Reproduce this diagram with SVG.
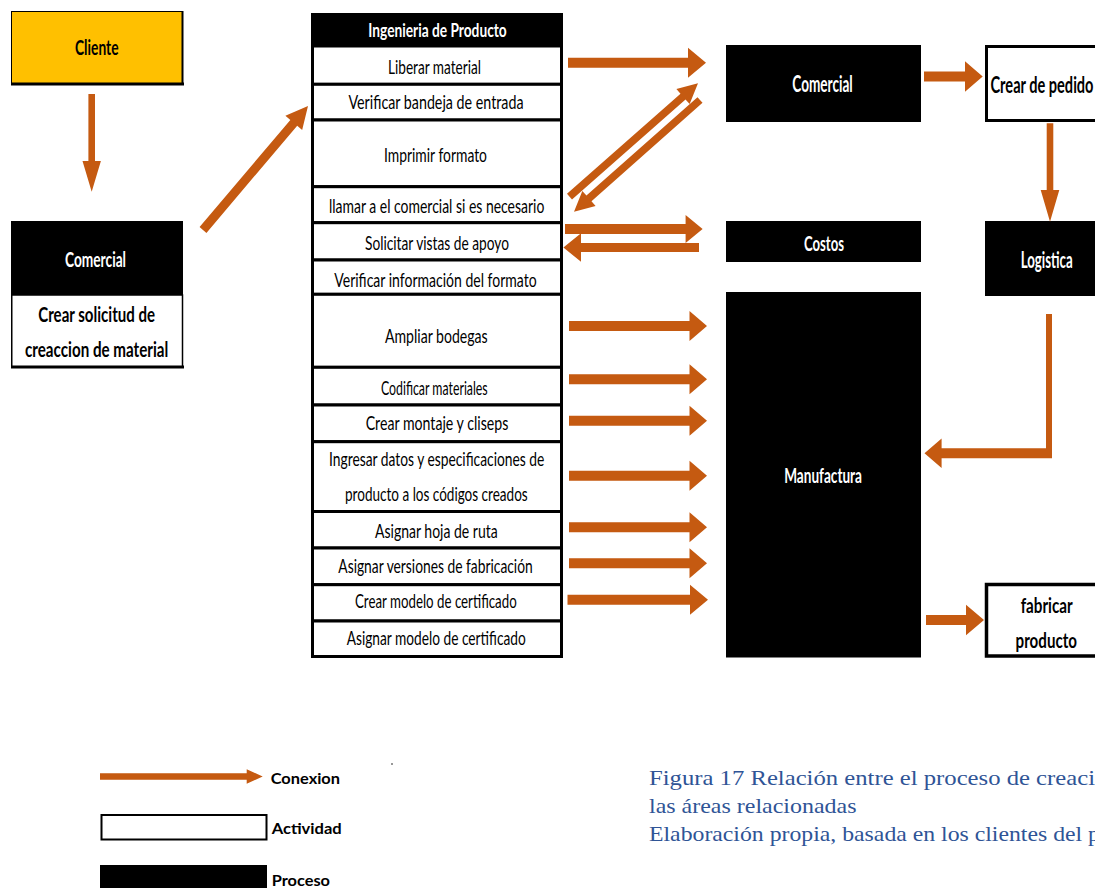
<svg xmlns="http://www.w3.org/2000/svg" width="1095" height="888" viewBox="0 0 1095 888">
  <style>
    .proc { fill: #000; }
    .act { fill: #fff; stroke: #000; stroke-width: 3; }
    .arr { fill: #C55A11; }
    .t { font-family: Lato, 'Liberation Sans', sans-serif; font-size: 19px; fill: #000; }
    .b { font-weight: 700; font-size: 21px; }
    .w { fill: #fff; }
    .lg { font-family: Lato, 'Liberation Sans', sans-serif; font-weight: 700; font-size: 16px; fill: #000; }
    .cap { font-family: 'Liberation Serif', 'Times New Roman', serif; font-size: 21px; fill: #2F5496; }
  </style>

  <rect width="1095" height="888" fill="#fff"/>

  <!-- Left column -->
  <g id="cliente">
    <rect x="11.5" y="11.5" width="171" height="72" fill="#FFC000" stroke="#000" stroke-width="1"/>
    <line x1="11" y1="84" x2="184" y2="84" stroke="#000" stroke-width="3"/>
    <line x1="182.5" y1="11" x2="182.5" y2="85" stroke="#000" stroke-width="2"/>
    <text class="t b" x="75" y="55" textLength="43.5" lengthAdjust="spacingAndGlyphs">Cliente</text>
  </g>

  <g id="comercial-solicitud">
    <rect class="proc" x="11" y="221" width="172" height="74"/>
    <text class="t b w" x="65" y="266.5" textLength="61" lengthAdjust="spacingAndGlyphs">Comercial</text>
    <rect x="11.75" y="295" width="170.75" height="72" fill="#fff" stroke="#000" stroke-width="1.5"/>
    <line x1="11" y1="367" x2="184" y2="367" stroke="#000" stroke-width="3"/>
    <text class="t b" x="38.3" y="321.5" textLength="116.7" lengthAdjust="spacingAndGlyphs">Crear solicitud de</text>
    <text class="t b" x="25" y="356.5" textLength="143.3" lengthAdjust="spacingAndGlyphs">creaccion de material</text>
  </g>

  <!-- Ingenieria de Producto column -->
  <g id="ingenieria">
    <rect class="proc" x="311" y="13" width="252" height="33"/>
    <text class="t b w" style="font-size:18px" x="368.3" y="37.3" textLength="138.4" lengthAdjust="spacingAndGlyphs">Ingenieria de Producto</text>
  </g>
  <g id="act-liberar">
    <rect class="act" x="312.5" y="46" width="249" height="38.3"/>
    <text class="t" x="388" y="74" textLength="93" lengthAdjust="spacingAndGlyphs">Liberar material</text>
  </g>
  <g id="act-bandeja">
    <rect class="act" x="312.5" y="84.3" width="249" height="35.7"/>
    <text class="t" x="348.5" y="108.5" textLength="175" lengthAdjust="spacingAndGlyphs">Verificar bandeja de entrada</text>
  </g>
  <g id="act-imprimir">
    <rect class="act" x="312.5" y="120" width="249" height="66.7"/>
    <text class="t" x="384" y="161.7" textLength="103" lengthAdjust="spacingAndGlyphs">Imprimir formato</text>
  </g>
  <g id="act-llamar">
    <rect class="act" x="312.5" y="186.7" width="249" height="36"/>
    <text class="t" x="329" y="213.3" textLength="215.3" lengthAdjust="spacingAndGlyphs">llamar a el comercial si es necesario</text>
  </g>
  <g id="act-vistas">
    <rect class="act" x="312.5" y="222.7" width="249" height="37.3"/>
    <text class="t" x="365" y="250" textLength="144" lengthAdjust="spacingAndGlyphs">Solicitar vistas de apoyo</text>
  </g>
  <g id="act-verificar-info">
    <rect class="act" x="312.5" y="260" width="249" height="34.3"/>
    <text class="t" x="334.3" y="286.7" textLength="202.4" lengthAdjust="spacingAndGlyphs">Verificar información del formato</text>
  </g>
  <g id="act-bodegas">
    <rect class="act" x="312.5" y="294.3" width="249" height="73"/>
    <text class="t" x="385" y="343.3" textLength="102.7" lengthAdjust="spacingAndGlyphs">Ampliar bodegas</text>
  </g>
  <g id="act-codificar">
    <rect class="act" x="312.5" y="367.3" width="249" height="37.7"/>
    <text class="t" x="381" y="395" textLength="106.7" lengthAdjust="spacingAndGlyphs">Codificar materiales</text>
  </g>
  <g id="act-montaje">
    <rect class="act" x="312.5" y="405" width="249" height="36.7"/>
    <text class="t" x="365.7" y="430" textLength="142.6" lengthAdjust="spacingAndGlyphs">Crear montaje y cliseps</text>
  </g>
  <g id="act-datos">
    <rect class="act" x="312.5" y="441.7" width="249" height="69.8"/>
    <text class="t" x="329" y="465.7" textLength="215.3" lengthAdjust="spacingAndGlyphs">Ingresar datos y especificaciones de</text>
    <text class="t" x="345" y="500.5" textLength="182.7" lengthAdjust="spacingAndGlyphs">producto a los códigos creados</text>
  </g>
  <g id="act-ruta">
    <rect class="act" x="312.5" y="511.5" width="249" height="36.5"/>
    <text class="t" x="375" y="538.3" textLength="122.7" lengthAdjust="spacingAndGlyphs">Asignar hoja de ruta</text>
  </g>
  <g id="act-versiones">
    <rect class="act" x="312.5" y="548" width="249" height="36.7"/>
    <text class="t" x="338.3" y="573.3" textLength="194.4" lengthAdjust="spacingAndGlyphs">Asignar versiones de fabricación</text>
  </g>
  <g id="act-crear-certificado">
    <rect class="act" x="312.5" y="584.7" width="249" height="36.3"/>
    <text class="t" x="355" y="608.3" textLength="161.7" lengthAdjust="spacingAndGlyphs">Crear modelo de certificado</text>
  </g>
  <g id="act-asignar-certificado">
    <rect class="act" x="312.5" y="621" width="249" height="35.5"/>
    <text class="t" x="346.7" y="645" textLength="179" lengthAdjust="spacingAndGlyphs">Asignar modelo de certificado</text>
  </g>

  <!-- Process areas -->
  <g id="comercial">
    <rect class="proc" x="726" y="45" width="195" height="77"/>
    <text class="t b w" style="font-size:22px" x="792.3" y="91.7" textLength="60.4" lengthAdjust="spacingAndGlyphs">Comercial</text>
  </g>
  <g id="costos">
    <rect class="proc" x="726" y="221" width="195" height="41"/>
    <text class="t b w" x="804" y="250.7" textLength="40" lengthAdjust="spacingAndGlyphs">Costos</text>
  </g>
  <g id="manufactura">
    <rect class="proc" x="726" y="292" width="195" height="365.5"/>
    <text class="t b w" style="font-size:20px" x="784.2" y="483.3" textLength="77.8" lengthAdjust="spacingAndGlyphs">Manufactura</text>
  </g>
  <g id="crear-pedido">
    <rect class="act" x="986.5" y="46.5" width="120" height="74"/>
    <text class="t b" style="font-size:22px" x="990.5" y="93.3" textLength="103" lengthAdjust="spacingAndGlyphs">Crear de pedido</text>
  </g>
  <g id="logistica">
    <rect class="proc" x="985" y="221" width="110" height="75"/>
    <text class="t b w" style="font-size:22px" x="1020.7" y="268.3" textLength="52" lengthAdjust="spacingAndGlyphs">Logistica</text>
  </g>
  <g id="fabricar-producto">
    <rect class="act" x="986.5" y="584.5" width="120" height="71.5" style="stroke-width:3.5"/>
    <text class="t b" x="1020.7" y="612.7" textLength="52" lengthAdjust="spacingAndGlyphs">fabricar</text>
    <text class="t b" x="1015.6" y="648.3" textLength="61.4" lengthAdjust="spacingAndGlyphs">producto</text>
  </g>

  <!-- Connectors: block arrows -->
  <g id="connectors">
    <path class="arr" d="M88.4 94 V161 H82.5 L91.7 191.7 L100.9 161 H95 V94 Z"/>
    <path class="arr" d="M206.43 232.91 L297.21 125.70 L302.17 129.90 L308 106 L285.39 115.68 L290.35 119.88 L199.57 227.09 Z"/>
    <path class="arr" d="M568 57.7 H688 V47.7 L706 62.7 L688 77.7 V67.7 H568 Z"/>
    <path class="arr" d="M572.01 199.55 L685.52 99.38 L689.63 104.03 L698 83.3 L676.39 89.03 L680.50 93.68 L566.99 193.85 Z"/>
    <path class="arr" d="M697.48 97.16 L586.44 195.59 L582.33 190.95 L574 211.7 L595.59 205.91 L591.48 201.27 L702.52 102.84 Z"/>
    <path class="arr" d="M565 224 H685.6 V215 L702.6 229 L685.6 243 V234 H565 Z"/>
    <path class="arr" d="M699 243 H581 V233.2 L563.4 247.5 L581 261.8 V252 H699 Z"/>
    <path class="arr" d="M569 321 H689.5 V311 L707 326 L689.5 341 V331 H569 Z"/>
    <path class="arr" d="M569 374.3 H689.5 V364.3 L707 379.3 L689.5 394.3 V384.3 H569 Z"/>
    <path class="arr" d="M569 415.7 H689.5 V405.7 L707 420.7 L689.5 435.7 V425.7 H569 Z"/>
    <path class="arr" d="M569 470.7 H689.5 V460.7 L707 475.7 L689.5 490.7 V480.7 H569 Z"/>
    <path class="arr" d="M569 522.3 H689.5 V512.3 L707 527.3 L689.5 542.3 V532.3 H569 Z"/>
    <path class="arr" d="M569 558.3 H689.5 V548.3 L707 563.3 L689.5 578.3 V568.3 H569 Z"/>
    <path class="arr" d="M567.5 594.7 H690 V584.7 L708 599.7 L690 614.7 V604.7 H567.5 Z"/>
    <path class="arr" d="M924 71.5 H965 V61.2 L982.7 76.5 L965 91.8 V81.5 H924 Z"/>
    <path class="arr" d="M1046.7 123.3 V190 H1040.7 L1050 221.7 L1059.3 190 H1053.3 V123.3 Z"/>
    <path class="arr" d="M1046 314 H1052 V458.3 H941.6 V468 L924.5 453.2 L941.6 438.4 V448.3 H1046 Z"/>
    <path class="arr" d="M926 615 H966 V604.7 L984 620 L966 635.3 V625 H926 Z"/>
  </g>

  <!-- Legend -->
  <g id="legend">
    <path class="arr" d="M100 773.3 H246.7 V769.3 L262.7 776.5 L246.7 783.7 V779.7 H100 Z"/>
    <text class="lg" x="270.7" y="784" textLength="69.3" lengthAdjust="spacingAndGlyphs">Conexion</text>
    <rect x="101.5" y="815" width="165" height="24.5" fill="#fff" stroke="#000" stroke-width="2"/>
    <text class="lg" x="271.7" y="834" textLength="70" lengthAdjust="spacingAndGlyphs">Actividad</text>
    <rect class="proc" x="100" y="865" width="167" height="23"/>
    <text class="lg" x="271.7" y="885.7" textLength="58.3" lengthAdjust="spacingAndGlyphs">Proceso</text>
    <rect x="391" y="763.5" width="2" height="1" fill="#333"/>
  </g>

  <!-- Caption -->
  <g id="caption">
    <text class="cap" x="649" y="785" textLength="446" lengthAdjust="spacingAndGlyphs">Figura 17 Relación entre el proceso de creaci</text>
    <text class="cap" x="649" y="813" textLength="207.5" lengthAdjust="spacingAndGlyphs">las áreas relacionadas</text>
    <text class="cap" x="649" y="840.5" textLength="451" lengthAdjust="spacingAndGlyphs">Elaboración propia, basada en los clientes del p</text>
  </g>
</svg>
